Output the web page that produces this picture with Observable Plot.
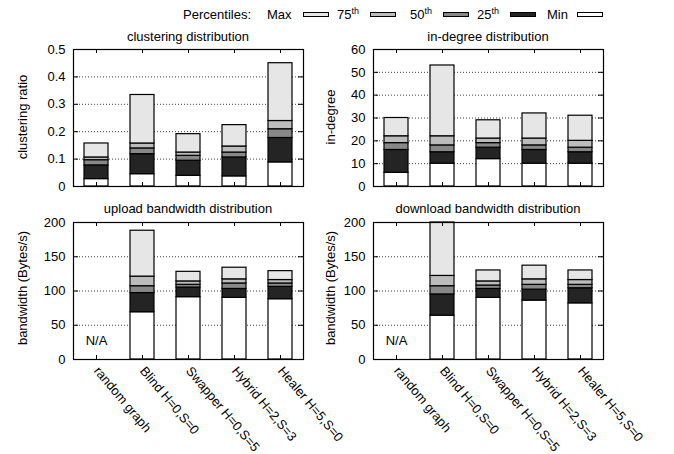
<!DOCTYPE html>
<html><head><meta charset="utf-8">
<script src="https://cdn.jsdelivr.net/npm/d3@7"></script>
<script src="https://cdn.jsdelivr.net/npm/@observablehq/plot@0.6"></script>
<style>
body{margin:0;background:#fff;}
#root{position:relative;width:674px;height:454px;font-family:"Liberation Sans",Arial,sans-serif;font-size:13px;color:#000;overflow:hidden;background:#fff}
.abs{position:absolute;white-space:nowrap;line-height:15px}
.title{position:absolute;white-space:nowrap;line-height:15px;transform:translateX(-50%)}
.ylab{position:absolute;white-space:nowrap;line-height:15px;transform:translate(-50%,-50%) rotate(-90deg)}
.sw{position:absolute;width:24px;height:3px;border:1px solid #000}
sup{font-size:9px;line-height:0;vertical-align:0;position:relative;top:-5px}
.panel{position:absolute}
</style></head><body><div id="root"></div>
<script>
// ---------- data ----------
const categories = ["random graph", "Blind H=0,S=0", "Swapper H=0,S=5", "Hybrid H=2,S=3", "Healer H=5,S=0"];
const legendLabels = ["Max", "75", "50", "25", "Min"];
const segmentColors = ["#ffffff", "#242424", "#888888", "#bcbcbc", "#e6e6e6"]; // 0-Min, Min-25, 25-50, 50-75, 75-Max
const naLabel = "N/A";

// clustering ratio
const clusterMin = [0.027, 0.045, 0.039, 0.037, 0.088];
const cluster25  = [0.077, 0.118, 0.094, 0.106, 0.177];
const cluster50  = [0.096, 0.139, 0.112, 0.124, 0.209];
const cluster75  = [0.106, 0.157, 0.124, 0.146, 0.239];
const clusterMax = [0.157, 0.334, 0.191, 0.224, 0.450];
const clusterTicks = [0, 0.1, 0.2, 0.3, 0.4, 0.5];

// in-degree
const degMin = [6, 10, 12, 10, 10];
const deg25  = [16, 15, 17, 16, 15];
const deg50  = [19, 18, 19, 18, 17];
const deg75  = [22, 22, 21, 21, 20];
const degMax = [30, 53, 29, 32, 31];
const degTicks = [0, 10, 20, 30, 40, 50, 60];

// upload bandwidth (random graph: N/A)
const upMin = [null, 69, 91, 90, 88];
const up25  = [null, 97, 105, 103, 106];
const up50  = [null, 107, 109, 111, 111];
const up75  = [null, 121, 114, 117, 116];
const upMax = [null, 188, 128, 134, 129];

// download bandwidth (random graph: N/A)
const downMin = [null, 64, 90, 86, 82];
const down25  = [null, 95, 103, 102, 104];
const down50  = [null, 107, 108, 109, 109];
const down75  = [null, 122, 114, 117, 116];
const downMax = [null, 200, 130, 137, 130];
const bwTicks = [0, 50, 100, 150, 200];

// ---------- drawing ----------
const root = document.getElementById("root");
const FONT = "Liberation Sans, Arial, Helvetica, sans-serif";

function panel({mins, p25, p50, p75, maxs, ticks, showX, left, top, width, height, mt, mb, ml, mr}) {
  const segs = [];
  categories.forEach((c, i) => {
    if (mins[i] == null) return;
    const v = [0, mins[i], p25[i], p50[i], p75[i], maxs[i]];
    for (let k = 0; k < 5; k++) segs.push({cat: c, y1: v[k], y2: v[k + 1], k});
  });
  const fw = width - ml - mr, fh = height - mt - mb;
  const marks = [
    Plot.ruleY(ticks.slice(1, -1), {y: d => d, stroke: "#000", strokeOpacity: 0.75, strokeDasharray: "1,2"}),
    Plot.barY(segs, {x: "cat", y1: "y1", y2: "y2", fill: d => segmentColors[d.k], stroke: "#000", strokeWidth: 1.2}),
    Plot.tickY(ticks, {y: d => d, insetRight: fw - 5, stroke: "#000"}),
    Plot.tickY(ticks, {y: d => d, insetLeft: fw - 5, stroke: "#000"}),
    Plot.tickX(categories, {x: d => d, insetTop: fh - 4, stroke: "#000"}),
    Plot.tickX(categories, {x: d => d, insetBottom: fh - 4, stroke: "#000"}),
    Plot.axisY({ticks, tickSize: 0, tickPadding: 8, label: null, fontSize: 13, tickFormat: d => String(d)}),
    Plot.frame({stroke: "#000", strokeWidth: 1.2})
  ];
  if (showX) {
    marks.push(Plot.axisX({tickRotate: 50, tickSize: 0, tickPadding: 9, label: null, fontSize: 13}));
  }
  if (mins[0] == null) {
    marks.push(Plot.text([naLabel], {x: () => categories[0], frameAnchor: "bottom", dy: -15, fontSize: 13, fill: "#000"}));
  }
  const chart = Plot.plot({
    width, height, marginTop: mt, marginBottom: mb, marginLeft: ml, marginRight: mr,
    style: {fontFamily: FONT, fontSize: "13px", color: "#000", background: "transparent", overflow: "visible"},
    x: {type: "band", domain: categories, paddingInner: 0.48, paddingOuter: 0.24, axis: null},
    y: {domain: [ticks[0], ticks[ticks.length - 1]], axis: null},
    marks
  });
  chart.classList.add("panel");
  chart.style.left = left + "px";
  chart.style.top = top + "px";
  root.appendChild(chart);
}

panel({mins: clusterMin, p25: cluster25, p50: cluster50, p75: cluster75, maxs: clusterMax, ticks: clusterTicks,
  showX: false, left: 0, top: 40, width: 337, height: 160, mt: 9, mb: 14, ml: 73, mr: 34});
panel({mins: degMin, p25: deg25, p50: deg50, p75: deg75, maxs: degMax, ticks: degTicks,
  showX: false, left: 337, top: 40, width: 337, height: 160, mt: 9, mb: 14, ml: 36, mr: 71});
panel({mins: upMin, p25: up25, p50: up50, p75: up75, maxs: upMax, ticks: bwTicks,
  showX: true, left: 0, top: 212, width: 337, height: 242, mt: 10, mb: 95, ml: 73, mr: 34});
panel({mins: downMin, p25: down25, p50: down50, p75: down75, maxs: downMax, ticks: bwTicks,
  showX: true, left: 337, top: 212, width: 337, height: 242, mt: 10, mb: 95, ml: 36, mr: 71});

// titles and y labels
function addText(cls, text, x, y) {
  const d = document.createElement("div");
  d.className = cls; d.textContent = text;
  d.style.left = x + "px"; d.style.top = y + "px";
  root.appendChild(d);
  return d;
}
addText("title", "clustering distribution", 188, 29);
addText("title", "in-degree distribution", 488, 29);
addText("title", "upload bandwidth distribution", 188, 201);
addText("title", "download bandwidth distribution", 488, 201);
addText("ylab", "clustering ratio", 22, 117);
addText("ylab", "in-degree", 330, 117);
addText("ylab", "bandwidth (Bytes/s)", 22, 288);
addText("ylab", "bandwidth (Bytes/s)", 330, 288);

// legend
const lg = addText("abs", "Percentiles:", 0, 7);
lg.style.left = ""; lg.style.right = (674 - 251) + "px";
const legendTextX = [267, 337, 410, 477, 547];
const legendSwX = [303, 370, 443, 510, 577];
const legendColors = ["#e6e6e6", "#bcbcbc", "#888888", "#242424", "#ffffff"];
legendLabels.forEach((lab, i) => {
  const t = document.createElement("div");
  t.className = "abs";
  t.style.left = legendTextX[i] + "px"; t.style.top = "7px";
  if (/^\d+$/.test(lab)) { t.innerHTML = lab + "<sup>th</sup>"; } else { t.textContent = lab; }
  root.appendChild(t);
  const s = document.createElement("div");
  s.className = "sw";
  s.style.left = legendSwX[i] + "px"; s.style.top = "12px";
  s.style.background = legendColors[i];
  root.appendChild(s);
});
</script>
</body></html>
